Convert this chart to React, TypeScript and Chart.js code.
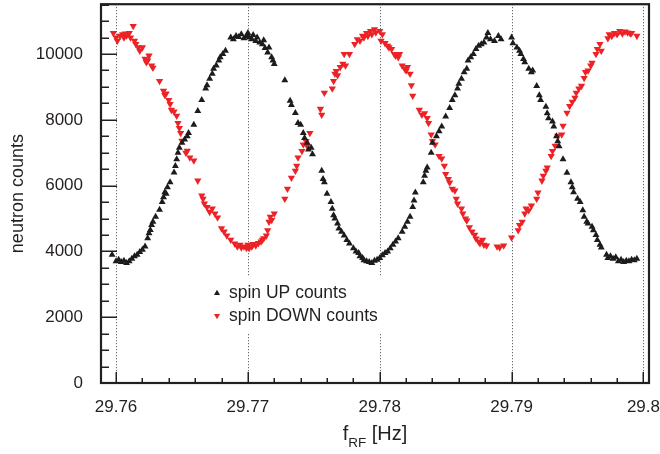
import React, { useEffect, useRef } from "react";
import { Chart, registerables } from "chart.js";

Chart.register(...registerables);

// ---- data ----
const upFreq = [
  29.7597, 29.76, 29.7602, 29.7604, 29.7606, 29.7608, 29.761, 29.7612, 29.7614, 29.7616,
  29.7618, 29.762, 29.7622, 29.7624, 29.7625, 29.7626, 29.7627, 29.7628, 29.763, 29.7633,
  29.7635, 29.7636, 29.7637, 29.7638, 29.7639, 29.7641, 29.7644, 29.7645, 29.7646, 29.7647,
  29.7648, 29.765, 29.7652, 29.7654, 29.7655, 29.7659, 29.7662, 29.7665, 29.7668, 29.7669,
  29.7671, 29.7673, 29.7674, 29.7676, 29.7678, 29.7679, 29.7681, 29.7683, 29.7687, 29.7689,
  29.7691, 29.7693, 29.7695, 29.7697, 29.7699, 29.77, 29.7701, 29.7703, 29.7704, 29.7706,
  29.7707, 29.7709, 29.7711, 29.7712, 29.7713, 29.7715, 29.7716, 29.7718, 29.7719, 29.772,
  29.7728, 29.7732, 29.7733, 29.7736, 29.7738, 29.774, 29.7742, 29.7743, 29.7745, 29.7746,
  29.7748, 29.7749, 29.7756, 29.7757, 29.7758, 29.776, 29.7763, 29.7764, 29.7765, 29.7766,
  29.7768, 29.7769, 29.7771, 29.7773, 29.7775, 29.7777, 29.778, 29.7782, 29.7784, 29.7785,
  29.7787, 29.7788, 29.779, 29.7792, 29.7794, 29.7796, 29.7798, 29.78, 29.7802, 29.7804,
  29.7806, 29.7808, 29.781, 29.7812, 29.7814, 29.7817, 29.7819, 29.7821, 29.7823, 29.7825,
  29.7826, 29.7827, 29.7833, 29.7834, 29.7835, 29.7836, 29.7839, 29.784, 29.7843, 29.7845,
  29.7847, 29.785, 29.7853, 29.7855, 29.7857, 29.7859, 29.786, 29.7862, 29.7864, 29.7866,
  29.7867, 29.7869, 29.7871, 29.7873, 29.7875, 29.7877, 29.7879, 29.7881, 29.7882, 29.7884,
  29.7887, 29.789, 29.7892, 29.79, 29.7901, 29.7904, 29.7906, 29.7907, 29.7909, 29.791,
  29.7913, 29.7915, 29.7916, 29.7919, 29.7921, 29.7922, 29.7926, 29.7927, 29.7928, 29.7931,
  29.7932, 29.7934, 29.7935, 29.7936, 29.7939, 29.7942, 29.7945, 29.7946, 29.7947, 29.795,
  29.7952, 29.7954, 29.7955, 29.7957, 29.7958, 29.7961, 29.7962, 29.7964, 29.7965, 29.7967,
  29.7968, 29.7972, 29.7973, 29.7975, 29.7977, 29.7979, 29.7981, 29.7983, 29.7985, 29.7987,
  29.7989, 29.7991, 29.7993, 29.7995,
];
const upCounts = [
  3900, 3700, 3750, 3680, 3720, 3650, 3700, 3780, 3850, 3900,
  3980, 4050, 4150, 4400, 4550, 4650, 4800, 4900, 5050, 5270,
  5500, 5650, 5800, 5750, 5950, 6100, 6400, 6600, 6800, 7000,
  7150, 7300, 7400, 7500, 7600, 7850, 8270, 8600, 8950, 9050,
  9250, 9400, 9550, 9650, 9800, 9900, 10000, 10100, 10500, 10450,
  10550, 10520, 10600, 10480, 10550, 10640, 10500, 10450, 10580, 10400,
  10500, 10350, 10300, 10420, 10180, 10050, 10200, 9900, 9800, 9700,
  9200, 8580, 8450, 8210, 7900, 7850, 7600, 7450, 7300, 7100,
  7150, 6950, 6450, 6200, 6100, 5750, 5500, 5300, 5100, 5000,
  4850, 4700, 4600, 4480, 4350, 4240, 4100, 4000, 3950, 3850,
  3800, 3730, 3700, 3680, 3650, 3720, 3750, 3800, 3880, 3950,
  4000, 4100, 4200, 4300, 4400, 4600, 4750, 4900, 5050, 5350,
  5550, 5790, 6100, 6300, 6450, 6550, 7000, 7300, 7500, 7650,
  7800, 8100, 8360, 8600, 8750, 8950, 9100, 9250, 9450, 9550,
  9800, 9900, 10000, 10150, 10250, 10300, 10350, 10500, 10640, 10450,
  10400, 10550, 10450, 10500, 10330, 10200, 10100, 10000, 9850, 9750,
  9550, 9450, 9500, 9030, 8750, 8600, 8400, 8200, 8050, 7950,
  7800, 7500, 7350, 7200, 6800, 6390, 6100, 5950, 5800, 5600,
  5500, 5250, 5050, 4900, 4850, 4750, 4640, 4500, 4350, 4200,
  4120, 3900, 3800, 3850, 3780, 3820, 3700, 3750, 3680, 3720,
  3700, 3750, 3730, 3780,
];

const downFreq = [
  29.7598, 29.76, 29.7601, 29.7603, 29.7605, 29.7606, 29.7607, 29.7608, 29.761, 29.7611,
  29.7613, 29.7614, 29.7615, 29.7617, 29.7618, 29.762, 29.7622, 29.7623, 29.7624, 29.7625,
  29.7627, 29.7628, 29.7633, 29.7636, 29.7637, 29.7638, 29.764, 29.7641, 29.7642, 29.7644,
  29.7646, 29.7647, 29.7648, 29.7649, 29.765, 29.7653, 29.7654, 29.7656, 29.7659, 29.7662,
  29.7665, 29.7666, 29.7667, 29.7669, 29.7671, 29.7673, 29.7675, 29.7677, 29.768, 29.7682,
  29.7684, 29.7687, 29.769, 29.7692, 29.7694, 29.7695, 29.7697, 29.7699, 29.77, 29.7701,
  29.7703, 29.7704, 29.7706, 29.7708, 29.771, 29.7711, 29.7712, 29.7714, 29.7715, 29.7716,
  29.7717, 29.7718, 29.772, 29.7728, 29.773, 29.7733, 29.7736, 29.7737, 29.7738, 29.7741,
  29.7742, 29.7744, 29.7745, 29.7747, 29.7755, 29.7756, 29.7758, 29.7764, 29.7765, 29.7766,
  29.7767, 29.7768, 29.777, 29.7772, 29.7773, 29.7774, 29.7777, 29.7781, 29.7783, 29.7785,
  29.7787, 29.7788, 29.779, 29.7791, 29.7793, 29.7794, 29.7796, 29.7797, 29.78, 29.7801,
  29.7802, 29.7804, 29.7806, 29.7807, 29.7809, 29.7811, 29.7812, 29.7814, 29.7815, 29.7817,
  29.7819, 29.782, 29.7821, 29.7823, 29.7824, 29.7825, 29.783, 29.7832, 29.7834, 29.7836,
  29.7837, 29.7839, 29.784, 29.7842, 29.7845, 29.7847, 29.7849, 29.785, 29.7852, 29.7853,
  29.7855, 29.7857, 29.7858, 29.7859, 29.7862, 29.7863, 29.7865, 29.7866, 29.7868, 29.787,
  29.7872, 29.7873, 29.7875, 29.7876, 29.7878, 29.7879, 29.7881, 29.7889, 29.7891, 29.7894,
  29.79, 29.7905, 29.7906, 29.7908, 29.791, 29.7911, 29.7913, 29.7915, 29.7919, 29.792,
  29.7923, 29.7924, 29.7926, 29.7927, 29.793, 29.7931, 29.7933, 29.7935, 29.7938, 29.7939,
  29.7942, 29.7944, 29.7946, 29.7948, 29.7949, 29.7951, 29.7953, 29.7955, 29.7956, 29.7958,
  29.796, 29.7961, 29.7964, 29.7965, 29.7967, 29.7968, 29.7973, 29.7974, 29.7976, 29.7978,
  29.798, 29.7982, 29.7984, 29.7986, 29.7988, 29.799, 29.7991, 29.7995,
];
const downCounts = [
  10640, 10500, 10400, 10550, 10600, 10500, 10620, 10560, 10640, 10500,
  10850, 10400, 10300, 10200, 10100, 10200, 9850, 9750, 9800, 9950,
  9650, 9580, 9180, 8880, 8750, 8800, 8600, 8480, 8300, 8250,
  8120, 7900, 7750, 7600, 7360, 7000, 7060, 6850, 6760, 6150,
  5700, 5600, 5450, 5350, 5200, 5300, 5150, 5030, 4700, 4600,
  4480, 4350, 4240, 4150, 4200, 4120, 4150, 4100, 4200, 4100,
  4150, 4220, 4180, 4250, 4300, 4350, 4400, 4480, 4640, 4900,
  5050, 4950, 5150, 5600, 5900, 6240, 6450, 6600, 6850, 7050,
  7250, 7350, 7200, 7600, 8330, 8150, 8820, 8950, 9180, 9400,
  9480, 9350, 9600, 9700, 10000, 9650, 10000, 10300, 10450, 10400,
  10550, 10500, 10640, 10550, 10700, 10600, 10750, 10650, 10700, 10400,
  10600, 10330, 10250, 10200, 10150, 10000, 9950, 9900, 10000, 9650,
  9550, 9500, 9600, 9400, 9050, 8730, 8300, 8150, 8200, 8050,
  7900, 7550, 7350, 7250, 6900, 6820, 6600, 6350, 6200, 6090,
  5900, 5850, 5600, 5450, 5300, 5150, 5000, 4940, 4730, 4600,
  4500, 4390, 4300, 4250, 4350, 4200, 4180, 4150, 4120, 4180,
  4420, 4640, 4800, 4900, 5150, 5300, 5250, 5390, 5600, 5790,
  6150, 6300, 6450, 6550, 6900, 7050, 7210, 7510, 7550, 7820,
  8210, 8420, 8550, 8670, 8820, 8950, 9030, 9270, 9450, 9500,
  9650, 9730, 10000, 10150, 10300, 10100, 10480, 10600, 10550, 10640,
  10600, 10700, 10620, 10680, 10650, 10620, 10640, 10550,
];

const xTicks = [29.76, 29.77, 29.78, 29.79, 29.8];
const xTickLabels = ["29.76", "29.77", "29.78", "29.79", "29.8"];
const yTicks = [0, 2000, 4000, 6000, 8000, 10000];
const yTickLabels = ["0", "2000", "4000", "6000", "8000", "10000"];
const seriesLabels = ["spin UP counts", "spin DOWN counts"];

const X_MIN = 29.75886;
const X_MAX = 29.80042;
const Y_MAX = 11515;
const X_MINOR = 0.002;
const Y_MINOR = 500;

const TEXT = "#231f20";
const BLACK = "#1c1c1c";
const RED = "#ec2226";
const FONT = "'Liberation Sans', Arial, Helvetica, sans-serif";

const decorPlugin = {
  id: "rootDecor",
  beforeDatasetsDraw(chart: any) {
    const { ctx, chartArea: a, scales } = chart;
    const xs = scales.x;
    ctx.save();
    ctx.strokeStyle = "#444";
    ctx.lineWidth = 1;
    ctx.setLineDash([1, 2]);
    for (const v of xTicks) {
      const px = Math.round(xs.getPixelForValue(v)) + 0.5;
      ctx.beginPath();
      ctx.moveTo(px, a.top);
      ctx.lineTo(px, a.bottom);
      ctx.stroke();
    }
    ctx.restore();
  },
  afterDatasetsDraw(chart: any) {
    const { ctx, chartArea: a, scales } = chart;
    const xs = scales.x;
    const ys = scales.y;
    ctx.save();
    // legend box (white, hides grid lines)
    ctx.fillStyle = "#fff";
    ctx.fillRect(200, 276, 200, 58);
    const markers = [
      { color: BLACK, up: true, y: 293 },
      { color: RED, up: false, y: 316 },
    ];
    ctx.font = `17.5px ${FONT}`;
    ctx.textBaseline = "middle";
    ctx.textAlign = "left";
    markers.forEach((m, i) => {
      ctx.fillStyle = m.color;
      ctx.beginPath();
      const r = 3.2;
      const dir = m.up ? 1 : -1;
      ctx.moveTo(217, m.y - dir * r);
      ctx.lineTo(217 + r * 0.95, m.y + dir * r * 0.6);
      ctx.lineTo(217 - r * 0.95, m.y + dir * r * 0.6);
      ctx.closePath();
      ctx.fill();
      ctx.fillStyle = TEXT;
      ctx.fillText(seriesLabels[i], 229, m.y);
    });

    // ticks (inside)
    ctx.strokeStyle = TEXT;
    ctx.lineWidth = 1.5;
    ctx.setLineDash([]);
    for (let v = 0; v <= Y_MAX; v += Y_MINOR) {
      const py = Math.round(ys.getPixelForValue(v)) + 0.25;
      const major = v % 2000 === 0;
      ctx.beginPath();
      ctx.moveTo(a.left, py);
      ctx.lineTo(a.left + (major ? 16 : 8), py);
      ctx.stroke();
    }
    for (let k = 0; ; k++) {
      const v = 29.76 + k * X_MINOR;
      if (v > X_MAX) break;
      const px = Math.round(xs.getPixelForValue(v)) + 0.25;
      const major = k % 5 === 0;
      ctx.beginPath();
      ctx.moveTo(px, a.bottom);
      ctx.lineTo(px, a.bottom - (major ? 11 : 5));
      ctx.stroke();
    }

    // frame
    ctx.lineWidth = 2.2;
    ctx.strokeStyle = TEXT;
    ctx.strokeRect(a.left, a.top, a.right - a.left, a.bottom - a.top);

    // axis titles
    ctx.fillStyle = TEXT;
    ctx.save();
    ctx.translate(18, (a.top + a.bottom) / 2);
    ctx.rotate(-Math.PI / 2);
    ctx.font = `18px ${FONT}`;
    ctx.textAlign = "center";
    ctx.textBaseline = "middle";
    ctx.fillText("neutron counts", 0, 0);
    ctx.restore();

    ctx.textBaseline = "alphabetic";
    ctx.textAlign = "left";
    const big = `20px ${FONT}`;
    const small = `13.5px ${FONT}`;
    ctx.font = big;
    const w1 = ctx.measureText("f").width;
    const w3 = ctx.measureText(" [Hz]").width;
    ctx.font = small;
    const w2 = ctx.measureText("RF").width;
    const total = w1 + w2 + w3;
    let x0 = (a.left + a.right) / 2 - total / 2;
    const base = 440;
    ctx.font = big;
    ctx.fillText("f", x0, base);
    x0 += w1;
    ctx.font = small;
    ctx.fillText("RF", x0, base + 7);
    x0 += w2;
    ctx.font = big;
    ctx.fillText(" [Hz]", x0, base);
    ctx.restore();
  },
};

export default function App() {
  const ref = useRef<HTMLCanvasElement | null>(null);
  useEffect(() => {
    if (!ref.current) return;
    const upData = upFreq.map((f, i) => ({ x: f, y: upCounts[i] }));
    const downData = downFreq.map((f, i) => ({ x: f, y: downCounts[i] }));
    const chart = new Chart(ref.current, {
      type: "scatter",
      data: {
        datasets: [
          {
            label: seriesLabels[0],
            data: upData,
            pointStyle: "triangle",
            pointRadius: 4,
            pointHoverRadius: 4,
            backgroundColor: BLACK,
            borderColor: BLACK,
            borderWidth: 0,
          },
          {
            label: seriesLabels[1],
            data: downData,
            pointStyle: "triangle",
            rotation: 180,
            pointRadius: 4.2,
            pointHoverRadius: 4.2,
            backgroundColor: RED,
            borderColor: RED,
            borderWidth: 0,
          },
        ],
      },
      options: {
        animation: false,
        responsive: false,
        maintainAspectRatio: false,
        layout: { padding: { left: 0, right: 11, top: 3, bottom: 0 } },
        plugins: {
          legend: { display: false },
          tooltip: { enabled: false },
        },
        scales: {
          x: {
            type: "linear",
            min: X_MIN,
            max: X_MAX,
            grid: { display: false, drawTicks: false, tickLength: 0 },
            border: { display: false },
            afterBuildTicks: (s: any) => {
              s.ticks = xTicks.map((v) => ({ value: v }));
            },
            afterFit: (s: any) => {
              s.height = 71;
              s.paddingLeft = 0;
              s.paddingRight = 0;
              s.paddingTop = 0;
              s.paddingBottom = 0;
            },
            ticks: {
              autoSkip: false,
              maxRotation: 0,
              padding: 14,
              color: TEXT,
              font: { family: FONT, size: 17 },
              callback: (_v: any, i: number) => xTickLabels[i],
            },
          },
          y: {
            type: "linear",
            min: 0,
            max: Y_MAX,
            grid: { display: false, drawTicks: false, tickLength: 0 },
            border: { display: false },
            afterBuildTicks: (s: any) => {
              s.ticks = yTicks.map((v) => ({ value: v }));
            },
            afterFit: (s: any) => {
              s.width = 101;
              s.paddingLeft = 0;
              s.paddingRight = 0;
              s.paddingTop = 0;
              s.paddingBottom = 0;
            },
            ticks: {
              autoSkip: false,
              padding: 18,
              color: TEXT,
              font: { family: FONT, size: 17 },
              callback: (_v: any, i: number) => yTickLabels[i],
            },
          },
        },
      },
      plugins: [decorPlugin],
    });
    return () => chart.destroy();
  }, []);
  return (
    <div style={{ position: "absolute", left: 0, top: 0, width: 660, height: 454, background: "#fff" }}>
      <canvas ref={ref} width={660} height={454} style={{ width: 660, height: 454 }} />
    </div>
  );
}
